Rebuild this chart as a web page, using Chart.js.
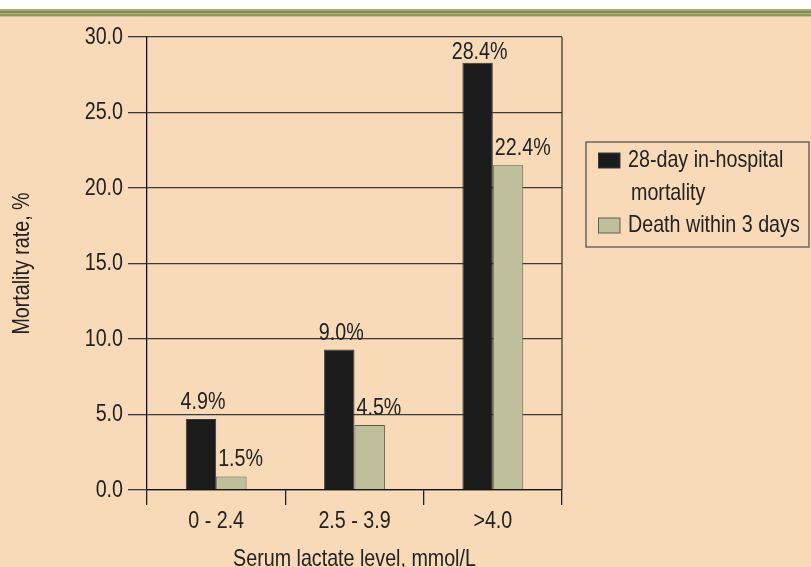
<!DOCTYPE html>
<html>
    <head>
        <style>
            html, body { margin: 0; padding: 0; background: #f8dab9; }
            #wrap { width: 811px; height: 567px; }
        </style>
    </head>
    <body>
	<div id="wrap">
		<canvas id="myChart" width="811" height="567"></canvas>
	</div>

        <script src="https://cdn.jsdelivr.net/npm/chart.js"></script>

        <script>
		// chart values
		const categories = ['0 - 2.4', '2.5 - 3.9', '>4.0'];
		const mortality28 = [4.7, 9.3, 28.3];
		const death3 = [0.9, 4.3, 21.5];
		const mortality28Text = ['4.9%', '9.0%', '28.4%'];
		const death3Text = ['1.5%', '4.5%', '22.4%'];
		const legendMortality = ['28-day in-hospital', 'mortality'];
		const legendDeath = ['Death within 3 days'];
		const yTicks = [0, 5, 10, 15, 20, 25, 30];
		const xTitle = 'Serum lactate level, mmol/L';
		const yTitle = 'Mortality rate, %';

		const FONT = "24px 'Liberation Sans', Arial, sans-serif";
		const INK = '#222222';
		const SQUEEZE = 0.82; // no narrow face installed, so squash the text by hand

		document.addEventListener("DOMContentLoaded", function () {
			init();
		});

		function narrowText(c, text, x, y, align, baseline, angle) {
			c.save();
			c.translate(x, y);
			if (angle) c.rotate(angle);
			c.scale(SQUEEZE, 1);
			c.font = FONT;
			c.fillStyle = INK;
			c.textAlign = align;
			c.textBaseline = baseline;
			c.fillText(text, 0, 0);
			c.restore();
		}

		function init(){
			const ctx = document.getElementById('myChart');

			// page background + olive stripe at the top
			const backdrop = {
				id: 'backdrop',
				beforeDraw(chart) {
					const c = chart.ctx;
					c.save();
					c.fillStyle = '#f8dab9';
					c.fillRect(0, 0, chart.width, chart.height);
					c.fillStyle = '#ffffff';
					c.fillRect(0, 0, chart.width, 9);
					const stripes = [['#a5ad76', 9, 2], ['#7e8c4b', 11, 2], ['#b3ba86', 13, 1], ['#8a9656', 14, 2], ['#c3c596', 16, 1]];
					stripes.forEach(function (s) {
						c.fillStyle = s[0];
						c.fillRect(0, s[1], chart.width, s[2]);
					});
					c.restore();
				},
				beforeDatasetsDraw(chart) {
					// right frame line of the plot
					const a = chart.chartArea, c = chart.ctx;
					c.save();
					c.strokeStyle = '#3a3a3a';
					c.lineWidth = 1.3;
					c.beginPath();
					c.moveTo(a.right, a.top);
					c.lineTo(a.right, a.bottom);
					c.stroke();
					c.restore();
				}
			};

			// tick labels and axis titles, placed from the scales
			const axisText = {
				id: 'axisText',
				afterDraw(chart) {
					const c = chart.ctx, a = chart.chartArea;
					const xs = chart.scales.x, ys = chart.scales.y;
					ys.ticks.forEach(function (t) {
						narrowText(c, t.value.toFixed(1), a.left - 24, ys.getPixelForValue(t.value), 'right', 'middle');
					});
					xs.ticks.forEach(function (t, i) {
						narrowText(c, categories[i], xs.getPixelForTick(i), a.bottom + 31.5, 'center', 'middle');
					});
					narrowText(c, xTitle, (a.left + a.right) / 2, 565.5, 'center', 'alphabetic');
					narrowText(c, yTitle, 28.5, (a.top + a.bottom) / 2, 'center', 'alphabetic', -Math.PI / 2);
				}
			};

			// percentage labels above the bars
			const barText = {
				id: 'barText',
				afterDatasetsDraw(chart) {
					const c = chart.ctx, a = chart.chartArea;
					chart.data.datasets.forEach(function (ds, i) {
						const meta = chart.getDatasetMeta(i);
						meta.data.forEach(function (bar, j) {
							const y = Math.max(bar.y - 10, a.top + 22);
							if (i === 0) {
								narrowText(c, ds.valueText[j], bar.x + 2, y, 'center', 'alphabetic');
							} else {
								narrowText(c, ds.valueText[j], bar.x - bar.width / 2 + 2, y, 'left', 'alphabetic');
							}
						});
					});
				}
			};

			// boxed legend at the right
			const sideLegend = {
				id: 'sideLegend',
				afterDraw(chart) {
					const c = chart.ctx;
					const bx = 586, by = 142, bw = 223, bh = 105;
					c.save();
					c.strokeStyle = '#4a4a4a';
					c.lineWidth = 1.2;
					c.strokeRect(bx, by, bw, bh);
					let line = 0;
					chart.data.datasets.forEach(function (ds) {
						const y0 = by + 18.5 + line * 32.5;
						c.fillStyle = ds.backgroundColor;
						c.fillRect(bx + 12.5, y0 - 7.5, 21.5, 15);
						c.strokeStyle = ds.borderColor;
						c.lineWidth = 1;
						c.strokeRect(bx + 12.5, y0 - 7.5, 21.5, 15);
						ds.legendLines.forEach(function (t, k) {
							narrowText(c, t, bx + 42 + (k > 0 ? 3 : 0), y0 + k * 32.5, 'left', 'middle');
						});
						line += ds.legendLines.length;
					});
					c.restore();
				}
			};

			const data = {
				labels: categories,
				datasets: [
					{
						label: legendMortality.join(' '),
						legendLines: legendMortality,
						valueText: mortality28Text,
						data: mortality28,
						backgroundColor: '#1b1b1b',
						borderColor: '#3a3a3a',
						borderWidth: 1,
						categoryPercentage: 0.44,
						barPercentage: 1.0
					},
					{
						label: legendDeath.join(' '),
						legendLines: legendDeath,
						valueText: death3Text,
						data: death3,
						backgroundColor: '#c0bf9b',
						borderColor: '#5f5f4e',
						borderWidth: 1,
						categoryPercentage: 0.44,
						barPercentage: 1.0
					}
				]
			};

			const mychart = new Chart(ctx, {
				type: 'bar',
				data: data,
				plugins: [backdrop, barText, axisText, sideLegend],
				options: {
					responsive: false,
					animation: false,
					devicePixelRatio: 1,
					layout: { padding: { top: 37, right: 249, bottom: 0, left: 0 } },
					plugins: {
						legend: { display: false },
						tooltip: { enabled: false }
					},
					scales: {
						x: {
							afterFit(s) { s.height = 77; },
							grid: {
								offset: true,
								drawOnChartArea: false,
								tickLength: 15,
								color: '#222',
								lineWidth: 1.3
							},
							border: { color: '#111', width: 1.3 },
							ticks: { display: false }
						},
						y: {
							min: 0,
							max: 30,
							afterFit(s) { s.width = 147; },
							afterBuildTicks(s) { s.ticks = yTicks.map(function (v) { return { value: v }; }); },
							grid: {
								color: '#3a3a3a',
								lineWidth: 1.3,
								tickLength: 19
							},
							border: { color: '#111', width: 1.3 },
							ticks: { display: false }
						}
					}
				}
			});
		}
        </script>
    </body>
</html>
